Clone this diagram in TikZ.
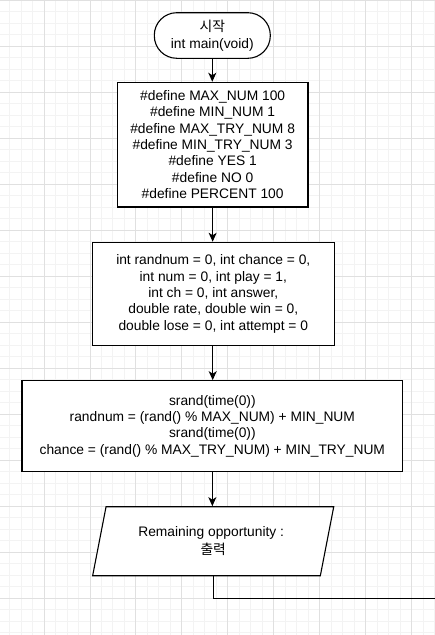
\documentclass[tikz,border=0pt]{standalone}
\usepackage{fontspec}
\setmainfont{Liberation Sans}
\newfontfamily\kr{Noto Sans CJK KR}
\usetikzlibrary{arrows.meta,shapes.geometric}
\definecolor{gridminor}{HTML}{F3F3F3}
\definecolor{gridmajor}{HTML}{E0E0E0}
\begin{document}
\begin{tikzpicture}[x=1pt,y=-1pt,
  txt/.style={font=\fontsize{13.8}{16.4}\selectfont, align=center, inner sep=0pt},
  box/.style={txt, draw=black, line width=1.1pt, fill=white},
  term/.style={box, rounded corners=22.5pt},
  io/.style={box, trapezium, trapezium left angle=71.8, trapezium right angle=108.2, trapezium stretches=true},
  arr/.style={draw=black, line width=1.1pt, -{Stealth[length=9pt,width=8pt,inset=2.5pt]}},
  conn/.style={draw=black, line width=1.1pt},
  gminor/.style={draw=gridminor, line width=0.9pt},
  gmajor/.style={draw=gridmajor, line width=0.9pt}]
\useasboundingbox[fill=white] (0,0) rectangle (435,635);
% grid
\foreach \k in {-3,...,34} \draw[gminor] ({44+11.49*\k},0) -- ({44+11.49*\k},635);
\foreach \k in {-4,...,51} \draw[gminor] (0,{46+11.5*\k}) -- (435,{46+11.5*\k});
\foreach \m in {0,...,8} \draw[gmajor] ({44+45.96*\m},0) -- ({44+45.96*\m},635);
\foreach \m in {-1,...,12} \draw[gmajor] (0,{46+46*\m}) -- (435,{46+46*\m});
% nodes
\node[term, minimum width=116pt, minimum height=45.6pt] (start) at (212.3,35.5)
  {{\kr 시작}\\[1pt]int main(void)};
\node[box, minimum width=190.7pt, minimum height=124.7pt] (defs) at (212.65,144.65)
  {\#define MAX\_NUM 100\\
   \#define MIN\_NUM 1\\
   \#define MAX\_TRY\_NUM 8\\
   \#define MIN\_TRY\_NUM 3\\
   \#define YES 1\\
   \#define NO 0\\
   \#define PERCENT 100};
\node[box, minimum width=242pt, minimum height=103.4pt] (vars) at (213.3,294)
  {int randnum = 0, int chance = 0,\\
   int num = 0, int play = 1,\\
   int ch = 0, int answer,\\
   double rate, double win = 0,\\
   double lose = 0, int attempt = 0};
\node[box, minimum width=380.7pt, minimum height=91pt] (rnd) at (212.35,426.2)
  {srand(time(0))\\
   randnum = (rand() \% MAX\_NUM) + MIN\_NUM\\
   srand(time(0))\\
   chance = (rand() \% MAX\_TRY\_NUM) + MIN\_TRY\_NUM};
\node[io, minimum width=241.7pt, minimum height=69pt] (out) at (213.2,541.2)
  {Remaining opportunity :\hspace*{4pt}\\[1pt]{\kr 출력}};
\coordinate (exit) at (435,598.5);
% connectors
\draw[arr] (start.south) -- (start.south |- defs.north);
\draw[arr] (defs.south) -- (defs.south |- vars.north);
\draw[arr] (vars.south -| 212.7,0) -- (212.7,0 |- rnd.north);
\draw[arr] (rnd.south) -- (rnd.south |- out.north);
\draw[conn] (out.south) |- (exit);
\end{tikzpicture}
\end{document}
